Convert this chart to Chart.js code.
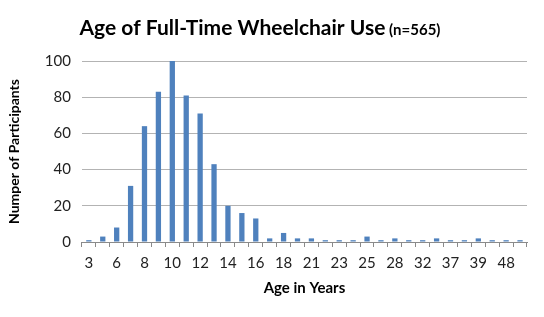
<!DOCTYPE html>
<html>
<head>
<meta charset="utf-8">
<script src="https://cdn.jsdelivr.net/npm/chart.js@4.4.0/dist/chart.umd.min.js"></script>
<style>
  html, body { margin: 0; padding: 0; background: #fff; }
  #wrap { width: 544px; height: 317px; }
</style>
</head>
<body>
<div id="wrap"><canvas id="ageChart" width="544" height="317"></canvas></div>
<script>
// age categories (x axis) and participant counts
const ages = ['3', '4', '6', '7', '8', '9', '10', '11', '12', '13', '14', '15', '16', '17', '18', '20',
              '21', '22', '23', '24', '25', '27', '28', '30', '32', '35', '37', '38', '39', '40', '48', '50'];
const participants = [1, 3, 8, 31, 64, 83, 100, 81, 71, 43, 20, 16, 13, 2, 5, 2,
                      2, 1, 1, 1, 3, 1, 2, 1, 1, 2, 1, 1, 2, 1, 1, 1];
const yTicks = [0, 20, 40, 60, 80, 100];

const titleMain = "Age of Full-Time Wheelchair Use";
const titleSub = " (n=565)";

const fontFam = "Lato, 'Open Sans', sans-serif";

//draw the title with two font sizes, like the original
const mixedTitle = {
    id: "mixedTitle",
    afterDraw(chart) {
        const ctx = chart.ctx;
        ctx.save();
        ctx.fillStyle = "#000";
        ctx.textBaseline = "alphabetic";
        ctx.font = "bold 21px " + fontFam;
        const w1 = ctx.measureText(titleMain).width;
        ctx.font = "bold 15px " + fontFam;
        const w2 = ctx.measureText(titleSub).width;
        let x = 260 - (w1 + w2) / 2;
        ctx.font = "bold 21px " + fontFam;
        ctx.fillText(titleMain, x, 35);
        ctx.font = "bold 15px " + fontFam;
        ctx.fillText(titleSub, x + w1, 35);
        ctx.restore();
    }
};

const ctx = document.getElementById("ageChart").getContext("2d");

new Chart(ctx, {
    type: "bar",
    data: {
        labels: ages,
        datasets: [
            {
                label: "Participants",
                data: participants,
                backgroundColor: "#4F81BD",
                borderWidth: 0,
                categoryPercentage: 1.0,
                barPercentage: 0.38,
            },
        ],
    },
    options: {
        responsive: false,
        animation: false,
        layout: {
            padding: { top: 61, right: 17, left: 6, bottom: 20 },
        },
        plugins: {
            legend: { display: false },
            tooltip: { enabled: false },
        },
        scales: {
            x: {
                grid: {
                    offset: true,
                    drawOnChartArea: false,
                    drawTicks: true,
                    tickLength: 5,
                    color: "#8a8a8a",
                },
                border: { color: "#8a8a8a" },
                ticks: {
                    autoSkip: false,
                    maxRotation: 0,
                    color: "#222",
                    font: { family: fontFam, size: 15 },
                    padding: 7,
                    callback: function (val, idx) {
                        return idx % 2 === 0 ? ages[idx] : "";
                    },
                },
                title: {
                    display: true,
                    text: "Age in Years",
                    color: "#000",
                    font: { family: fontFam, size: 15, weight: "bold" },
                    padding: { top: 0, bottom: 0 },
                },
            },
            y: {
                min: 0,
                max: 100,
                afterBuildTicks: (axis) => {
                    axis.ticks = yTicks.map((v) => ({ value: v }));
                },
                grid: {
                    color: "#b3b3b3",
                    drawTicks: false,
                },
                border: { display: false },
                ticks: {
                    color: "#222",
                    font: { family: fontFam, size: 15 },
                    padding: 11,
                },
                title: {
                    display: true,
                    text: "Numper of Participants",
                    color: "#000",
                    font: { family: fontFam, size: 14, weight: "bold" },
                    padding: { top: 0, bottom: 11 },
                },
            },
        },
    },
    plugins: [mixedTitle],
});
</script>
</body>
</html>
